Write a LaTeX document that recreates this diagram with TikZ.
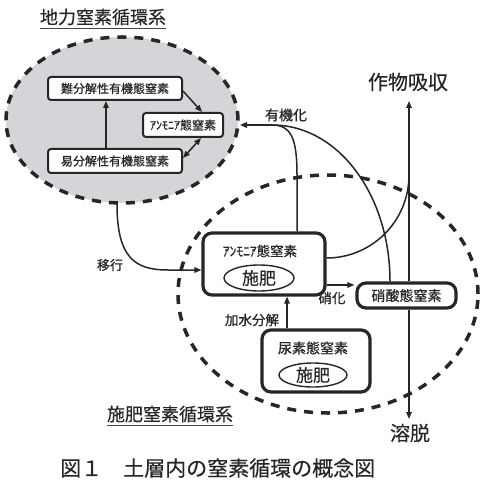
\documentclass[tikz,border=0pt]{standalone}
\usepackage{fontspec}
\setmainfont{Noto Sans CJK JP}[FakeBold=0.3]
\newfontfamily\boxfont{Noto Sans CJK JP}[FakeBold=0.8]
\usetikzlibrary{arrows.meta,calc,shapes.geometric}
\definecolor{ink}{HTML}{262626}
\definecolor{shade}{HTML}{D6D4D8}
\begin{document}
\begin{tikzpicture}[x=1bp,y=-1bp,line join=round,
  ln/.style={draw=ink,line width=1.5bp},
  arr/.style={ln,-{Triangle[length=7bp,width=5.5bp]}},
  darr/.style={ln,{Triangle[length=7bp,width=5.5bp]}-{Triangle[length=7bp,width=5.5bp]}},
  lbl/.style={text=ink,inner sep=0pt,font=\fontsize{#1bp}{#1bp}\selectfont},
  blbl/.style={text=ink,inner sep=0pt,font=\boxfont\fontsize{#1bp}{#1bp}\selectfont},
  smallbox/.style={draw=ink,line width=2bp,fill=white,rounded corners=3bp,inner sep=0pt,blbl=12},
  bigbox/.style={draw=ink,line width=3.2bp,fill=white,rounded corners=9bp,inner sep=0pt},
  ring/.style={draw=ink,line width=3.5bp,dash pattern=on 9bp off 8bp},
  hiryo/.style={ellipse,draw=ink,line width=1.4bp,inner sep=0pt},
  uline/.style={draw=ink!85,line width=1.6bp}
]
\useasboundingbox[fill=white] (0,0) rectangle (489,489);

% system rings
\node[ellipse,ring,fill=shade,minimum width=232bp,minimum height=166bp] (upper) at (122,120) {};
\node[ellipse,ring,minimum width=300bp,minimum height=238bp] (lower) at (328,294) {};

% upper system boxes
\node[smallbox,minimum width=134bp,minimum height=23bp] (nan) at (115,88.5) {難分解性有機態窒素};
\node[smallbox,minimum width=134bp,minimum height=24bp] (eki) at (115,161) {易分解性有機態窒素};
\node[smallbox,minimum width=80bp,minimum height=24bp] (amm1) at (183,125) {ｱﾝﾓﾆｱ態窒素};

% lower system boxes
\node[bigbox,minimum width=122bp,minimum height=62bp] (amm2) at (264,264) {};
\node[blbl=13.5] (amm2t) at (260,251) {ｱﾝﾓﾆｱ態窒素};
\node[hiryo,lbl=17,minimum width=70bp,minimum height=26bp] (amm2e) at (259,278) {施肥};

\node[bigbox,blbl=14,minimum width=99bp,minimum height=25bp] (nit) at (406.5,295.5) {硝酸態窒素};

\node[bigbox,minimum width=108bp,minimum height=62bp] (urea) at (316,361) {};
\node[blbl=14] (ureat) at (313,348) {尿素態窒素};
\node[hiryo,lbl=17,minimum width=68bp,minimum height=24bp] (ureae) at (313,375) {施肥};

% arrows inside upper system
\draw[arr] ($(eki.north)+(-9,0)$) -- ($(nan.south)+(-9,0)$);
\draw[arr] ($(nan.east)+(0,2.5)$) -- ($(amm1.north)+(19,0)$);
\draw[darr] ($(eki.east)+(0,-3)$) -- ($(amm1.south)+(18,0)$);

% 移行
\coordinate (ikoS) at (117,204);
\draw[arr] (ikoS) .. controls (117,258) and (135,270) .. (168,270) -- ($(amm2.west)+(0,6)$);
\node[blbl=13] (ikoL) at (110,265) {移行};

% 有機化
\coordinate (ykM) at (272,125);
\coordinate (ykT) at (240,125);
\draw[ln] ($(amm2.north)+(33,0)$) -- (297,175) .. controls (297,138) and (291,125) .. (ykM);
\draw[ln] ($(nit.north)+(-16.5,0)$) .. controls (390,196) and (339,125) .. (ykM);
\draw[arr] (ykM) -- (ykT);
\node[blbl=14] (ykL) at (286,115) {有機化};

% 作物吸収
\coordinate (upT) at (409,101);
\coordinate (upJ) at (409,175);
\draw[arr] (nit.north -| upT) -- (upT);
\draw[ln] ($(amm2.east)+(0,-6)$) .. controls (372,258) and (409,221) .. (upJ);
\node[lbl=20] (sakuL) at (408,82) {作物吸収};

% 溶脱
\coordinate (dnT) at (409,419);
\draw[arr] (nit.south -| dnT) -- (dnT);
\node[lbl=20] (yodL) at (410,433) {溶脱};

% 硝化
\draw[arr] ($(amm2.east)+(0,21)$) -- ($(nit.west)+(-1,-10.5)$);
\node[blbl=13.5] (shoL) at (332,298) {硝化};

% 加水分解
\draw[arr] ($(urea.north)+(-29,0)$) -- ($(amm2.south)+(23,0)$);
\node[blbl=13.5] (kasuiL) at (252,320) {加水分解};

% titles
\node[lbl=18] (t1) at (103,17) {地力窒素循環系};
\draw[uline] ($(t1.base west)+(0,4.5)$) -- ($(t1.base east)+(0,4.5)$);
\node[lbl=18] (t2) at (170,414) {施肥窒素循環系};
\draw[uline] ($(t2.base west)+(0,4.5)$) -- ($(t2.base east)+(0,4.5)$);

% caption
\node[lbl=21,anchor=west] (cap) at (60,468) {図１　土層内の窒素循環の概念図};
\end{tikzpicture}
\end{document}
